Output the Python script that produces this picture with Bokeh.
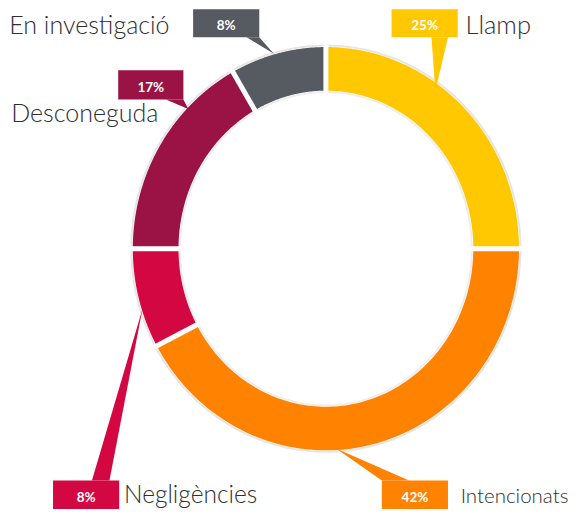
import numpy as np
from bokeh.plotting import figure
from bokeh.models import Range1d, ColumnDataSource
from bokeh.core.properties import value
from bokeh.embed import file_html
from bokeh.resources import INLINE

# ---- data ----
categories = ["Llamp", "Intencionats", "Negligències", "Desconeguda", "En investigació"]
values = [25, 42, 8, 17, 8]
pct_labels = ["25%", "42%", "8%", "17%", "8%"]
colors = ["#FFC800", "#FF8300", "#D30843", "#9B1245", "#565B62"]

# ---- layout (reference pixel coordinates, y downwards) ----
CX, CY = 334.5, 256.0
RX_OUT, RY_OUT = 198.5, 208.0
RX_IN, RY_IN = 151.5, 163.0

boxes = [(402, 470, 9, 38), (392, 460, 495, 525), (54, 122, 495, 525),
         (121, 188, 72, 102), (198, 266, 9, 38)]
pointers = [
    ([443, 460, 447], [38, 38, 93]),
    ([392, 420, 345], [495, 495, 462]),
    ([94, 112, 146], [495, 495, 318]),
    ([170, 188, 193], [102, 102, 112]),
    ([253, 266, 281], [38, 38, 55]),
]
pct_pos = [(436, 25), (426, 512), (88, 512), (154.5, 89), (232, 25)]
name_pos = [(478, 24), (473, 510), (127, 509), (11, 115), (9, 24)]
name_size = ["25.5px", "20.5px", "24.5px", "25px", "25px"]
NAME_FONT = "Lato Light"

p = figure(width=572, height=509, output_backend="svg", toolbar_location=None,
           x_range=Range1d(0, 588), y_range=Range1d(525, 0),
           min_border=0)
p.axis.visible = False
p.grid.visible = False
p.outline_line_color = None
p.background_fill_color = "white"

total = float(sum(values))
cum = np.concatenate([[0.0], np.cumsum(values) / total])

# faint halo around the ring
t = np.linspace(0, 2 * np.pi, 400)
p.line(CX + (RX_OUT + 1.5) * np.sin(t), CY - (RY_OUT + 1.5) * np.cos(t),
       line_color="#e6e6e6", line_width=2)
p.line(CX + (RX_IN - 1.5) * np.sin(t), CY - (RY_IN - 1.5) * np.cos(t),
       line_color="#eeeeee", line_width=2)

xs, ys = [], []
for i in range(len(values)):
    a = np.linspace(cum[i], cum[i + 1], 120) * 2 * np.pi
    ox = CX + RX_OUT * np.sin(a)
    oy = CY - RY_OUT * np.cos(a)
    ix = CX + RX_IN * np.sin(a[::-1])
    iy = CY - RY_IN * np.cos(a[::-1])
    xs.append(list(np.concatenate([ox, ix])))
    ys.append(list(np.concatenate([oy, iy])))
p.patches(xs, ys, fill_color=colors, line_color=None)

# white separators
for f in cum[:-1]:
    a = f * 2 * np.pi
    p.line([CX + (RX_IN - 3) * np.sin(a), CX + (RX_OUT + 3) * np.sin(a)],
           [CY - (RY_IN - 3) * np.cos(a), CY - (RY_OUT + 3) * np.cos(a)],
           line_color="white", line_width=5)

# callouts
for i in range(len(values)):
    x0, x1, y0, y1 = boxes[i]
    p.patch([x0, x1, x1, x0], [y0, y0, y1, y1], fill_color=colors[i], line_color=None)
    px, py = pointers[i]
    p.patch(px, py, fill_color=colors[i], line_color=None)

src_pct = ColumnDataSource(dict(x=[q[0] for q in pct_pos], y=[q[1] for q in pct_pos],
                                t=pct_labels))
p.text("x", "y", text="t", source=src_pct, text_color="white",
       text_font=value("Lato"), text_font_style="bold", text_font_size="13.5px",
       text_align="center", text_baseline="middle")

for i in range(len(values)):
    p.text([name_pos[i][0]], [name_pos[i][1]], text=[categories[i]],
           text_color="#2e2e33", text_font=value(NAME_FONT),
           text_font_size=name_size[i], text_align="left", text_baseline="middle")

open("out.html", "w").write(file_html(p, INLINE))
